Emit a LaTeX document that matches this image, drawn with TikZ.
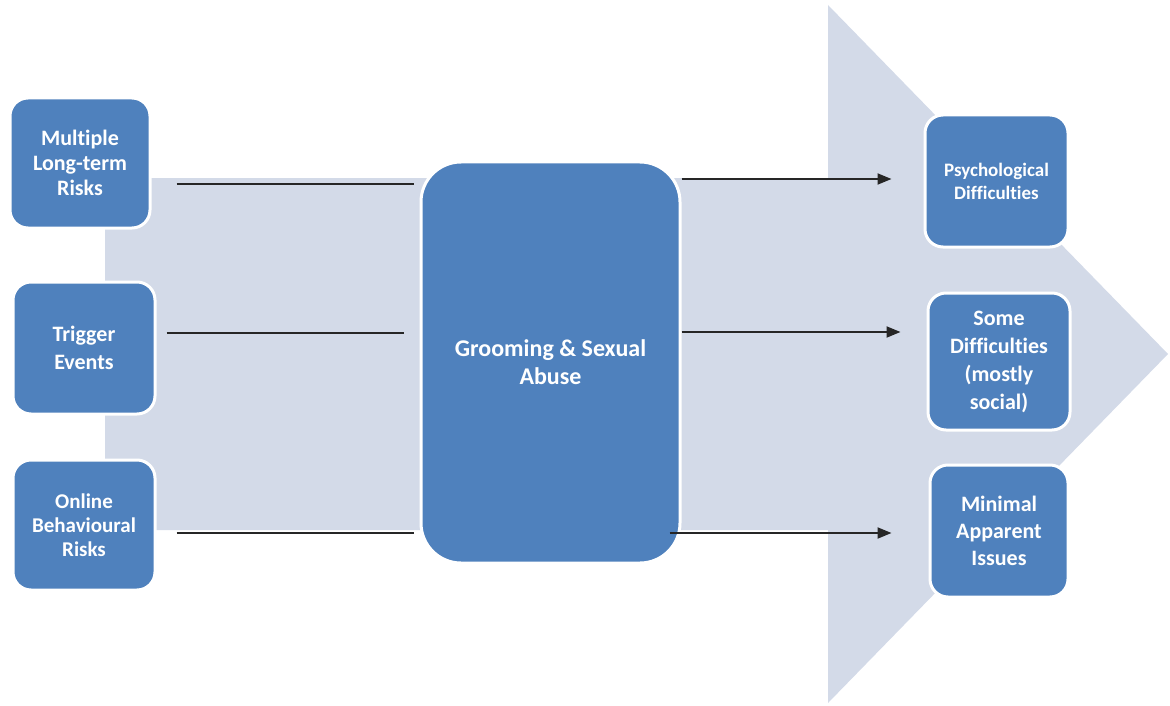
\documentclass[tikz,border=0pt]{standalone}
\usepackage{fontspec}
\setmainfont[Ligatures=NoCommon]{Carlito}
\usetikzlibrary{arrows.meta}
\definecolor{boxblue}{HTML}{4F81BD}
\definecolor{arrowbg}{HTML}{D3DAE8}
\definecolor{linegrey}{HTML}{262626}
\begin{document}
\begin{tikzpicture}[x=1pt,y=-1pt,
  box/.style={rectangle, rounded corners=18pt, fill=boxblue, draw=white, line width=3pt,
    text=white, align=center, inner sep=0pt, font=\bfseries\fontsize{22}{25}\selectfont},
  conn/.style={draw=linegrey, line width=2pt},
  arr/.style={conn, -{Triangle[length=14pt,width=11pt]}}]
\useasboundingbox (0,0) rectangle (1170,706);
% big background arrow
\fill[arrowbg] (105,178) -- (828,178) -- (828,5) -- (1168,354) -- (828,703) -- (828,530) -- (105,530) -- cycle;
% left boxes
\node[box, minimum width=140pt, minimum height=130pt] (a) at (80,163) {Multiple\\Long-term\\Risks};
\node[box, minimum width=142pt, minimum height=132pt, font=\bfseries\fontsize{22}{28}\selectfont] (b) at (84,348) {Trigger\\Events};
\node[box, minimum width=142pt, minimum height=130pt, font=\bfseries\fontsize{21}{24}\selectfont] (c) at (84,525) {Online\\Behavioural\\Risks};
% central box
\node[box, rounded corners=40pt, minimum width=259pt, minimum height=401pt, font=\bfseries\fontsize{24}{28}\selectfont] (g) at (550.5,362.5) {Grooming \& Sexual\\Abuse};
% right boxes
\node[box, minimum width=143pt, minimum height=132pt, font=\bfseries\fontsize{19}{23}\selectfont] (p) at (996.5,181) {Psychological\\Difficulties};
\node[box, minimum width=142pt, minimum height=137pt, font=\bfseries\fontsize{22}{28}\selectfont] (s) at (999,361.5) {Some\\Difficulties\\(mostly\\social)};
\node[box, minimum width=138pt, minimum height=132pt, font=\bfseries\fontsize{22}{27}\selectfont] (m) at (999,531) {Minimal\\Apparent\\Issues};
% connectors left
\draw[conn, shorten <=25pt, shorten >=6pt] (a.east |- 0,184) -- (g.west |- 0,184);
\draw[conn, shorten <=10pt, shorten >=16pt] (b.east |- 0,333) -- (g.west |- 0,333);
\draw[conn, shorten <=20pt, shorten >=6pt] (c.east |- 0,533) -- (g.west |- 0,533);
% connectors right
\draw[arr, shorten >=32pt] (g.east |- 0,179) -- (p.west |- 0,179);
\draw[arr, shorten >=26pt] (g.east |- 0,332) -- (s.west |- 0,332);
\draw[arr, shorten <=-12pt, shorten >=37pt] (g.east |- 0,533) -- (m.west |- 0,533);
\end{tikzpicture}
\end{document}
